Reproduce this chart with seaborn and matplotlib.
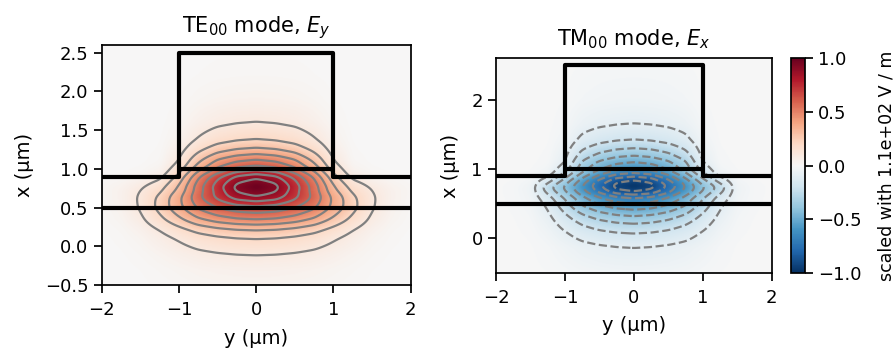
import numpy as np
import matplotlib
matplotlib.use("Agg")
import matplotlib.pyplot as plt
import seaborn as sns

# ---------------- data ----------------
# vertical (x) profile of |field| along y = 0, normalised to the peak
te_x_pos = [-0.5, -0.3, -0.11, 0.10, 0.21, 0.28, 0.345, 0.43, 0.52, 0.58, 0.64, 0.76,
            0.88, 0.935, 0.98, 1.04, 1.12, 1.19, 1.27, 1.378, 1.60, 1.90, 2.20, 2.60]
te_x_val = [0.03, 0.05, 0.10, 0.20, 0.30, 0.40, 0.50, 0.60, 0.70, 0.80, 0.90, 1.00,
            0.90, 0.80, 0.70, 0.60, 0.50, 0.40, 0.30, 0.20, 0.10, 0.04, 0.015, 0.005]
tm_x_pos = [-0.5, -0.13, 0.07, 0.21, 0.32, 0.41, 0.50, 0.58, 0.63, 0.67, 0.755,
            0.84, 0.89, 0.94, 1.00, 1.10, 1.19, 1.30, 1.42, 1.65, 2.00, 2.60]
tm_x_val = [0.04, 0.10, 0.20, 0.30, 0.40, 0.50, 0.60, 0.70, 0.80, 0.90, 1.00,
            0.90, 0.80, 0.70, 0.60, 0.50, 0.40, 0.30, 0.20, 0.10, 0.04, 0.01]

# horizontal (|y|) profiles, read in each layer (substrate, slab middle, slab top, rib)
y_nodes = [0.0, 0.25, 0.5, 0.75, 1.0, 1.25, 1.5, 1.75, 2.0]
layer_x = [0.5, 0.73, 0.95, 1.1]
te_y_sub = [1.0, 0.97, 0.89, 0.76, 0.55, 0.34, 0.16, 0.06, 0.02]
te_y_mid = [1.0, 0.94, 0.76, 0.56, 0.33, 0.18, 0.10, 0.045, 0.02]
te_y_top = [1.0, 0.94, 0.77, 0.55, 0.25, 0.06, 0.02, 0.008, 0.003]
te_y_rib = [1.0, 0.94, 0.80, 0.54, 0.20, 0.03, 0.008, 0.003, 0.0]
tm_y_sub = [1.0, 0.96, 0.86, 0.70, 0.45, 0.20, 0.06, 0.02, 0.005]
tm_y_mid = [1.0, 0.95, 0.79, 0.605, 0.43, 0.27, 0.05, 0.015, 0.005]
tm_y_top = [1.0, 0.95, 0.80, 0.58, 0.30, 0.06, 0.015, 0.005, 0.0]
tm_y_rib = [1.0, 0.95, 0.83, 0.62, 0.20, 0.03, 0.008, 0.003, 0.0]
te_sign = 1.0
tm_sign = -1.0

# waveguide outline (y, x) in µm
slab_bottom_y = [-2, 2]
slab_bottom_x = [0.5, 0.5]
rib_y = [-2, -1, -1, 1, 1, 2]
rib_x = [0.9, 0.9, 2.5, 2.5, 0.9, 0.9]
rib_base_y = [-1, 1]
rib_base_x = [1.0, 1.0]

levels = [0.1, 0.2, 0.3, 0.4, 0.5, 0.6, 0.7, 0.8, 0.9]
titles = ["TE$_{00}$ mode, $E_y$", "TM$_{00}$ mode, $E_x$"]
cbar_label = "scaled with 1.1e+02 V / m"

# ---------------- build the field maps ----------------
yg = np.linspace(-2, 2, 401)
xg = np.linspace(-0.5, 2.6, 311)


def blur(a, s):
    r = int(3 * s)
    k = np.exp(-0.5 * (np.arange(-r, r + 1) / s) ** 2)
    k /= k.sum()
    p = np.pad(a, r, mode="edge")
    p = np.apply_along_axis(lambda v: np.convolve(v, k, mode="valid"), 0, p)
    p = np.apply_along_axis(lambda v: np.convolve(v, k, mode="valid"), 1, p)
    return p


def field(xpos, xval, profiles, sign):
    fx = np.interp(xg, xpos, xval)
    P = np.array(profiles)
    Gn = np.stack([np.interp(xg, layer_x, P[:, j]) for j in range(P.shape[1])], axis=1)
    ay = np.abs(yg)
    G = np.stack([np.interp(ay, y_nodes, Gn[i]) for i in range(len(xg))])
    return sign * blur(fx[:, None] * G, 3.0)


F_te = field(te_x_pos, te_x_val, [te_y_sub, te_y_mid, te_y_top, te_y_rib], te_sign)
F_tm = field(tm_x_pos, tm_x_val, [tm_y_sub, tm_y_mid, tm_y_top, tm_y_rib], tm_sign)

# ---------------- plot ----------------
sns.set_theme(context="notebook", style="ticks")
plt.rcParams.update({"font.family": ["DejaVu Sans"], "axes.linewidth": 1.25,
                     "text.color": "black", "axes.labelcolor": "black",
                     "xtick.color": "black", "ytick.color": "black",
                     "axes.edgecolor": "black",
                     "xtick.major.width": 1.25, "ytick.major.width": 1.25,
                     "xtick.major.size": 6, "ytick.major.size": 6,
                     "xtick.major.pad": 5.5, "ytick.major.pad": 3.5,
                     "xtick.labelsize": 13, "ytick.labelsize": 13,
                     "axes.labelsize": 14, "axes.titlesize": 15})
cmap = sns.color_palette("RdBu_r", as_cmap=True)

fig = plt.figure(figsize=(8.94, 3.51), dpi=100)
ax1 = fig.add_axes([0.1138, 0.188, 0.3456, 0.684])
ax2 = fig.add_axes([0.5548, 0.2231, 0.3084, 0.6108])
cax = fig.add_axes([0.8848, 0.2222, 0.0157, 0.6125])

for ax, F, title in [(ax1, F_te, titles[0]), (ax2, F_tm, titles[1])]:
    im = ax.imshow(F, origin="lower", extent=[-2, 2, -0.5, 2.6], cmap=cmap,
                   vmin=-1, vmax=1, aspect="auto", interpolation="bilinear")
    lv = levels if F.max() > 0.5 else [-l for l in levels[::-1]]
    ax.contour(yg, xg, F, levels=lv, colors="gray", linewidths=1.6)
    ax.plot(slab_bottom_y, slab_bottom_x, color="black", lw=3)
    ax.plot(rib_y, rib_x, color="black", lw=3)
    ax.plot(rib_base_y, rib_base_x, color="black", lw=3)
    ax.set_xlim(-2, 2)
    ax.set_ylim(-0.5, 2.6)
    ax.set_xticks([-2, -1, 0, 1, 2])
    ax.set_xlabel("y (µm)", labelpad=7)
    ax.set_ylabel("x (µm)", labelpad=8)
    ax.set_title(title, pad=9)

ax1.set_yticks([-0.5, 0.0, 0.5, 1.0, 1.5, 2.0, 2.5])
ax2.set_yticks([0, 1, 2])

cb = fig.colorbar(im, cax=cax, ticks=[-1, -0.5, 0, 0.5, 1])
cb.set_label(cbar_label, fontsize=12.5, labelpad=11)
cb.outline.set_linewidth(1.25)

fig.savefig("out.png", dpi=100)
